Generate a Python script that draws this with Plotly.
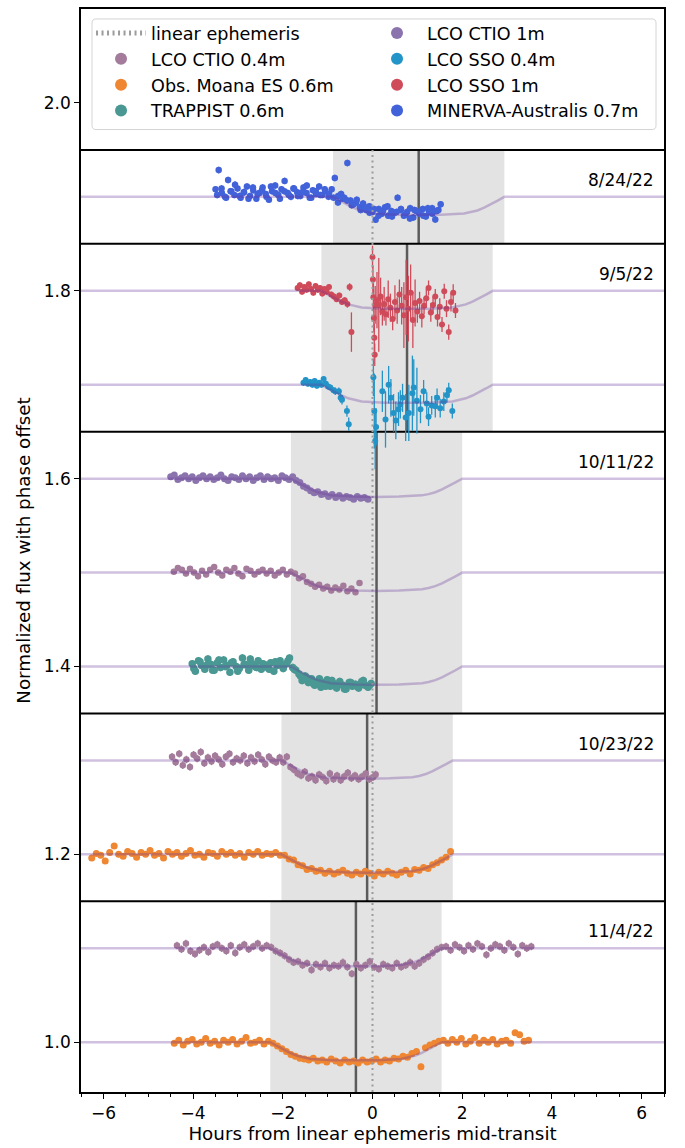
import plotly.graph_objects as go

FONT = "DejaVu Sans"
Y_MIN, Y_MAX = 0.947, 2.1
X_MIN, X_MAX = -6.5, 6.5

# ---------------- panels ----------------
panel_dates = ["8/24/22", "9/5/22", "10/11/22", "10/23/22", "11/4/22"]
panel_top = [1.95, 1.85, 1.65, 1.35, 1.15]
panel_bottom = [1.85, 1.65, 1.35, 1.15, Y_MIN]
panel_tc = [1.03, 0.77, 0.09, -0.12, -0.37]      # fitted mid-transit (hours)
half_t14 = 1.91                                   # half transit duration (hours)

# transit model profile (hours from mid-transit, flux drop)
model_dt = [-1.91, -1.76, -1.61, -1.46, -1.31, -1.16, -1.01, -0.5, 0.0,
            0.5, 1.01, 1.16, 1.31, 1.46, 1.61, 1.76, 1.91]
model_drop = [0.0, -0.0040, -0.0080, -0.0115, -0.0145, -0.0165, -0.0178, -0.0191, -0.0195,
              -0.0191, -0.0178, -0.0165, -0.0145, -0.0115, -0.0080, -0.0040, 0.0]

# ---------------- data ----------------
# 8/24/22 MINERVA-Australis 0.7m
minerva_t = [-3.50, -3.43, -3.36, -3.29, -3.22, -3.15, -3.08, -3.01, -2.94, -2.87, -2.80, -2.73,
             -2.66, -2.59, -2.52, -2.45, -2.38, -2.31, -2.24, -2.17, -2.10, -2.03, -1.96, -1.89,
             -1.82, -1.75, -1.68, -1.61, -1.54, -1.47, -1.40, -1.33, -1.26, -1.19, -1.12, -1.05,
             -0.98, -0.91, -0.84, -0.77, -0.70, -0.63, -0.56, -0.49, -0.42, -0.35, -0.28, -0.21,
             -0.14, -0.07, 0.00, 0.07, 0.14, 0.21, 0.28, 0.35, 0.42, 0.49, 0.56, 0.63, 0.70, 0.77,
             0.84, 0.91, 0.98, 1.05, 1.12, 1.19, 1.26, 1.33, 1.40, 1.47, 1.52,
             -3.465, -3.365, -3.265, -3.165, -3.065, -2.965, -2.865, -2.765, -2.665, -2.565,
             -2.465, -2.365, -2.265, -2.165, -2.065, -1.965, -1.865, -1.765, -1.665, -1.565,
             -1.465, -1.365, -1.265, -1.165, -1.065, -0.965, -0.865,
             -0.765, -0.665, -0.565, -0.465, -0.365, -0.265, -0.165, -0.065, 0.035, 0.135, 0.235,
             0.335, 0.435, 0.535, 0.635, 0.735, 0.835, 0.935, 1.035, 1.135, 1.235, 1.335, 1.435]
minerva_f = [1.008, 1.0285, 1.004, 1.000, 1.018, 1.006, 1.002, 1.009, 0.999, 1.005, 1.011, 1.001,
             1.007, 0.998, 1.004, 1.010, 1.003, 0.997, 1.006, 1.012, 1.002, 1.008, 1.017, 1.004,
             1.000, 1.009, 1.005, 1.001, 1.010, 1.004, 0.999, 1.007, 1.003, 1.011, 1.002, 1.006,
             1.000, 1.008, 1.020, 0.994, 1.003, 0.999, 1.036, 0.996, 0.992, 0.997, 0.989, 0.993,
             0.986, 0.990, 0.984, 0.9757, 0.987, 0.982, 0.989, 0.980, 0.985, 0.983, 0.999, 0.986,
             0.980, 0.984, 0.988, 0.978, 0.985, 0.982, 0.987, 0.979, 0.984, 0.988, 0.976, 0.986, 0.992,
             1.002, 1.009, 0.999, 1.006, 1.013, 1.001, 1.005, 0.998, 1.010, 1.003,
             1.007, 1.000, 1.011, 1.004, 0.998, 1.006, 1.002, 1.009, 1.001, 1.005,
             1.012, 0.999, 1.006, 1.002, 1.008, 1.003, 0.999,
             1.001, 0.998, 0.996, 0.991, 0.994, 0.986, 0.989, 0.983, 0.987, 0.980, 0.985,
             0.990, 0.979, 0.984, 0.987, 0.981, 0.977, 0.986, 0.983, 0.980, 0.988, 0.982, 0.985]
minerva_err = 0.0035

# 9/5/22 LCO SSO 1m
sso1_t = [-1.67, -1.62, -1.57, -1.52, -1.47, -1.42, -1.37, -1.32, -1.27, -1.22, -1.17, -1.12,
          -1.07, -1.02, -0.97, -0.92, -0.86, -0.80, -0.74, -0.68, -0.62, -0.56, -0.51, -0.47,
          0.00, 0.01, 0.02, 0.03, 0.04, 0.05, 0.06,
          0.10, 0.14, 0.18, 0.22, 0.26, 0.30, 0.35, 0.40, 0.45, 0.50, 0.55, 0.60, 0.65, 0.70,
          0.75, 0.80, 0.85, 0.90, 0.95, 1.00, 1.05, 1.10, 1.15, 1.20, 1.25, 1.30, 1.35, 1.40,
          1.45, 1.50, 1.55, 1.60, 1.65, 1.70, 1.75, 1.80, 1.85]
sso1_f = [1.003, 1.006, 0.999, 1.004, 1.001, 1.007, 1.002, 0.998, 1.005, 1.001, 1.003, 0.997,
          1.002, 0.999, 1.004, 0.996, 0.994, 0.991, 0.995, 0.988, 0.990, 0.986, 1.004, 0.956,
          1.036, 1.012, 0.993, 0.971, 0.950, 0.932, 0.985,
          0.990, 0.985, 0.994, 0.978, 0.986, 0.975, 0.991, 0.982, 0.970, 0.988, 0.979, 0.996,
          0.984, 0.974, 0.993, 0.981, 0.998, 0.969, 0.987, 0.978, 0.989, 0.973, 0.984, 0.992,
          1.003, 0.977, 0.985, 0.994, 0.972, 0.983, 0.964, 0.9995, 0.981, 0.956, 0.988, 0.998, 0.979]
sso1_err = [0.003, 0.003, 0.003, 0.003, 0.003, 0.003, 0.003, 0.003, 0.003, 0.003, 0.003, 0.003,
            0.003, 0.003, 0.003, 0.003, 0.003, 0.003, 0.003, 0.003, 0.003, 0.004, 0.004, 0.021,
            0.012, 0.015, 0.015, 0.015, 0.015, 0.012, 0.020,
            0.030, 0.050, 0.020, 0.015, 0.018, 0.012, 0.020, 0.015, 0.012, 0.018, 0.014, 0.016,
            0.020, 0.035, 0.040, 0.035, 0.030, 0.030, 0.025, 0.012, 0.010, 0.012, 0.009, 0.010,
            0.008, 0.010, 0.009, 0.008, 0.010, 0.009, 0.008, 0.008, 0.009, 0.008, 0.010, 0.009, 0.008]

# 9/5/22 LCO SSO 0.4m
sso04_t = [-1.54, -1.49, -1.44, -1.39, -1.34, -1.29, -1.24, -1.19, -1.14, -1.09, -1.04, -0.99,
           -0.94, -0.87, -0.83, -0.75, -0.71, -0.68, -0.57, -0.53,
           0.02, 0.04, 0.06, 0.08,
           0.22, 0.29, 0.36, 0.41, 0.47, 0.52, 0.58, 0.62, 0.67, 0.74, 0.81, 0.89, 0.92, 0.99,
           1.07, 1.14, 1.21, 1.25, 1.32, 1.40, 1.44, 1.51, 1.59, 1.66, 1.70, 1.78]
sso04_f = [1.002, 1.005, 1.001, 1.003, 1.000, 1.004, 0.999, 1.002, 1.000, 1.006, 1.001, 0.998,
           0.997, 0.994, 0.993, 0.993, 0.986, 0.984, 0.972, 0.958,
           1.008, 0.972, 0.940, 0.955,
           0.993, 0.963, 1.000, 0.986, 0.970, 0.962, 0.974, 0.979, 0.986, 0.965, 0.970, 0.991,
           0.997, 0.983, 0.974, 0.993, 0.980, 0.966, 0.978, 0.977, 0.986, 0.975, 0.982, 0.989,
           0.994, 0.972]
sso04_err = [0.003, 0.003, 0.003, 0.003, 0.003, 0.003, 0.003, 0.003, 0.003, 0.003, 0.003, 0.003,
             0.003, 0.003, 0.004, 0.004, 0.005, 0.005, 0.006, 0.007,
             0.020, 0.040, 0.030, 0.020,
             0.022, 0.030, 0.020, 0.020, 0.020, 0.020, 0.018, 0.015, 0.015, 0.025, 0.030, 0.040,
             0.030, 0.035, 0.015, 0.012, 0.012, 0.010, 0.010, 0.012, 0.010, 0.010, 0.010, 0.008,
             0.008, 0.008]

# 10/11/22 LCO CTIO 1m
ctio1_t = [-4.50, -4.42, -4.34, -4.26, -4.18, -4.10, -4.02, -3.94, -3.86, -3.78, -3.70, -3.62,
           -3.54, -3.46, -3.38, -3.30, -3.22, -3.14, -3.06, -2.98, -2.90, -2.82, -2.74, -2.66,
           -2.58, -2.50, -2.42, -2.34, -2.26, -2.18, -2.10, -2.02, -1.94, -1.86, -1.78,
           -1.70, -1.62, -1.54, -1.46, -1.38, -1.30, -1.22, -1.14, -1.06, -0.98, -0.90, -0.82,
           -0.74, -0.66, -0.58, -0.50, -0.42, -0.34, -0.26, -0.18, -0.10]
ctio1_f = [1.002, 1.004, 0.999, 1.001, 1.003, 1.000, 1.002, 0.998, 1.001, 1.003, 1.000, 1.002,
           0.999, 1.001, 1.004, 1.000, 0.998, 1.002, 1.001, 0.999, 1.003, 1.000, 1.002, 0.998,
           1.001, 1.003, 0.999, 1.002, 1.000, 1.001, 0.998, 1.003, 1.001, 0.999, 1.002,
           0.998, 0.996, 0.992, 0.990, 0.987, 0.985, 0.986, 0.983, 0.984, 0.981, 0.983, 0.980,
           0.982, 0.979, 0.981, 0.980, 0.978, 0.981, 0.979, 0.980, 0.978]
ctio1_err = 0.002

# 10/11/22 LCO CTIO 0.4m
ctio04a_t = [-4.43, -4.34, -4.25, -4.16, -4.07, -3.98, -3.89, -3.80, -3.71, -3.62, -3.53, -3.44,
             -3.35, -3.26, -3.17, -3.08, -2.99, -2.90, -2.81, -2.72, -2.63, -2.54, -2.45, -2.36,
             -2.27, -2.18, -2.09, -2.00, -1.91, -1.82,
             -1.73, -1.64, -1.55, -1.46, -1.37, -1.28, -1.19, -1.10, -1.01, -0.92, -0.83, -0.74,
             -0.65, -0.56, -0.47, -0.38, -0.29]
ctio04a_f = [1.001, 1.005, 1.003, 0.999, 1.004, 1.000, 0.996, 1.002, 0.998, 1.003, 1.006, 1.000,
             0.997, 1.003, 1.001, 1.005, 0.999, 0.996, 1.004, 1.002, 0.998, 1.001, 1.003, 0.999,
             1.002, 0.997, 1.000, 1.003, 0.998, 1.001,
             0.999, 0.994, 0.996, 0.990, 0.988, 0.985, 0.987, 0.983, 0.985, 0.981, 0.984, 0.982,
             0.986, 0.980, 0.983, 0.979, 0.989]
ctio04a_err = 0.003

# 10/11/22 TRAPPIST 0.6m
trap_t = [-4.02, -3.95, -3.88, -3.81, -3.74, -3.67, -3.60, -3.53, -3.46, -3.39, -3.32, -3.25,
          -3.18, -3.11, -3.04, -2.97, -2.90, -2.83, -2.76, -2.69, -2.62, -2.55, -2.48, -2.41,
          -2.34, -2.27, -2.20, -2.13, -2.06, -1.99, -1.92, -1.85,
          -1.78, -1.71, -1.64, -1.57, -1.50, -1.43, -1.36, -1.29, -1.22, -1.15, -1.08, -1.01,
          -0.94, -0.87, -0.80, -0.73, -0.66, -0.59, -0.52, -0.45, -0.38, -0.31, -0.24, -0.17,
          -0.10, -0.03,
          -3.985, -3.845, -3.705, -3.565, -3.425, -3.285, -3.145, -3.005, -2.865, -2.725,
          -2.585, -2.445, -2.305, -2.165, -2.025, -1.885,
          -1.745, -1.605, -1.465, -1.325, -1.185, -1.045, -0.905, -0.765, -0.625, -0.485,
          -0.345, -0.205, -0.065]
trap_f = [1.003, 0.995, 1.006, 1.001, 0.997, 1.008, 1.002, 0.996, 1.004, 0.999, 1.007, 1.001,
          0.994, 1.005, 1.000, 0.998, 1.009, 1.002, 0.996, 1.003, 1.000, 1.006, 0.997, 1.002,
          0.999, 1.004, 0.995, 1.001, 1.006, 0.998, 1.003, 1.009,
          0.999, 0.996, 0.992, 0.985, 0.990, 0.983, 0.987, 0.980, 0.984, 0.978, 0.983, 0.986,
          0.979, 0.982, 0.977, 0.984, 0.980, 0.976, 0.983, 0.979, 0.981, 0.977, 0.984, 0.980,
          0.978, 0.982,
          0.998, 1.005, 1.001, 0.996, 1.007, 1.000, 1.004, 0.995, 1.002, 1.008,
          0.999, 1.003, 0.997, 1.005, 1.001, 1.006,
          0.997, 0.990, 0.988, 0.982, 0.987, 0.979, 0.985, 0.981, 0.976, 0.983,
          0.979, 0.985, 0.980]
trap_err = 0.004

# 10/23/22 LCO CTIO 0.4m
ctio04b_t = [-4.47, -4.39, -4.31, -4.23, -4.15, -4.07, -3.99, -3.91, -3.83, -3.75, -3.67, -3.59,
             -3.51, -3.43, -3.35, -3.27, -3.19, -3.11, -3.03, -2.95, -2.87, -2.79, -2.71, -2.63,
             -2.55, -2.47, -2.39, -2.31, -2.23, -2.15, -2.07,
             -1.99, -1.91, -1.83, -1.75, -1.67, -1.59, -1.51, -1.43, -1.35, -1.27, -1.19, -1.11,
             -1.03, -0.95, -0.87, -0.79, -0.71, -0.63, -0.55, -0.47, -0.39, -0.31, -0.23, -0.15,
             -0.07, 0.01, 0.07]
ctio04b_f = [1.004, 0.998, 1.007, 0.995, 1.001, 0.993, 1.006, 1.002, 1.009, 0.997, 1.003, 0.999,
             1.005, 1.001, 0.996, 1.004, 1.007, 0.998, 1.002, 1.000, 1.005, 0.997, 1.003, 0.999,
             1.006, 1.001, 0.996, 1.004, 1.000, 0.998, 1.003,
             0.998, 1.004, 0.993, 0.990, 0.986, 0.984, 0.988, 0.981, 0.983, 0.979, 0.985, 0.982,
             0.978, 0.986, 0.980, 0.984, 0.979, 0.983, 0.987, 0.981, 0.984, 0.980, 0.983, 0.986,
             0.980, 0.982, 0.985]
ctio04b_err = 0.004

# 10/23/22 Obs. Moana ES 0.6m
moanaa_t = [-6.26, -6.16, -6.06, -5.96, -5.86, -5.76, -5.66, -5.56, -5.46, -5.36, -5.26, -5.16,
            -5.06, -4.96, -4.86, -4.76, -4.66, -4.56, -4.46, -4.36, -4.26, -4.16, -4.06, -3.96,
            -3.86, -3.76, -3.66, -3.56, -3.46, -3.36, -3.26, -3.16, -3.06, -2.96, -2.86, -2.76,
            -2.66, -2.56, -2.46, -2.36, -2.26, -2.16, -2.06,
            -1.96, -1.86, -1.76, -1.66, -1.56, -1.46, -1.36, -1.26, -1.16, -1.06, -0.96, -0.86,
            -0.76, -0.66, -0.56, -0.46, -0.36, -0.26, -0.16, -0.06, 0.04, 0.14, 0.24, 0.34,
            0.44, 0.54, 0.64, 0.74, 0.84, 0.94, 1.04, 1.14, 1.24, 1.34, 1.44, 1.54, 1.64, 1.74]
moanaa_f = [0.996, 1.001, 0.999, 0.993, 1.002, 1.009, 1.000, 0.998, 1.003, 1.001, 0.997, 1.002,
            1.000, 1.004, 0.999, 1.001, 0.996, 1.003, 1.000, 1.002, 0.998, 1.001, 1.004, 0.999,
            1.000, 0.997, 1.002, 1.001, 0.998, 1.003, 1.000, 1.002, 0.999, 1.001, 0.997, 1.002,
            1.000, 1.003, 0.999, 1.001, 1.000, 1.002, 0.999,
            0.999, 0.995, 0.994, 0.989, 0.988, 0.984, 0.985, 0.982, 0.983, 0.980, 0.982, 0.979,
            0.981, 0.983, 0.980, 0.978, 0.981, 0.979, 0.982, 0.980, 0.977, 0.981, 0.979, 0.982,
            0.980, 0.978, 0.981, 0.983, 0.979, 0.984, 0.983, 0.986, 0.985, 0.989, 0.991, 0.994,
            0.997, 1.003]
moanaa_err = 0.003

# 11/4/22 LCO CTIO 0.4m
ctio04c_t = [-4.36, -4.26, -4.16, -4.06, -3.96, -3.86, -3.76, -3.66, -3.56, -3.46, -3.36, -3.26,
             -3.16, -3.06, -2.96, -2.86, -2.76, -2.66, -2.56, -2.46, -2.36,
             -2.26, -2.16, -2.06, -1.96, -1.86, -1.76, -1.66, -1.56, -1.46, -1.36, -1.26, -1.16,
             -1.06, -0.96, -0.86, -0.76, -0.66, -0.56, -0.46, -0.36, -0.26, -0.16, -0.06, 0.04,
             0.14, 0.24, 0.34, 0.44, 0.54, 0.64, 0.74, 0.84, 0.94, 1.04, 1.14, 1.24, 1.34, 1.44,
             1.54,
             1.64, 1.74, 1.84, 1.94, 2.04, 2.14, 2.24, 2.34, 2.44, 2.54, 2.64, 2.74, 2.84, 2.94,
             3.04, 3.14, 3.24, 3.34, 3.44, 3.54]
ctio04c_f = [1.003, 0.999, 1.005, 0.997, 0.994, 0.998, 1.001, 0.996, 1.002, 1.004, 1.000, 0.997,
             1.003, 0.995, 1.001, 1.004, 0.999, 1.002, 1.005, 1.000, 1.003,
             1.001, 0.997, 0.995, 0.992, 0.988, 0.985, 0.986, 0.982, 0.984, 0.977, 0.983, 0.980,
             0.984, 0.979, 0.982, 0.981, 0.985, 0.980, 0.973, 0.983, 0.979, 0.982, 0.986, 0.980,
             0.978, 0.983, 0.981, 0.979, 0.984, 0.980, 0.982, 0.985, 0.981, 0.984, 0.988, 0.991,
             0.995, 0.999, 1.001,
             1.002, 0.998, 1.004, 1.001, 0.997, 1.003, 0.999, 1.005, 1.002, 0.993, 1.000, 1.004,
             1.002, 0.998, 1.005, 1.001, 0.994, 1.003, 1.000, 1.002]
ctio04c_err = 0.004

# 11/4/22 Obs. Moana ES 0.6m
moanab_t = [-4.42, -4.32, -4.22, -4.12, -4.02, -3.92, -3.82, -3.72, -3.62, -3.52, -3.42, -3.32,
            -3.22, -3.12, -3.02, -2.92, -2.82, -2.72, -2.62, -2.52, -2.42, -2.32,
            -2.22, -2.12, -2.02, -1.92, -1.82, -1.72, -1.62, -1.52, -1.42, -1.32, -1.22, -1.12,
            -1.02, -0.92, -0.82, -0.72, -0.62, -0.52, -0.42, -0.32, -0.22, -0.12, -0.02, 0.08,
            0.18, 0.28, 0.38, 0.48, 0.58, 0.68, 0.78, 0.88, 0.98, 1.08, 1.18, 1.28, 1.38, 1.48,
            1.58, 1.68, 1.78, 1.88, 1.98, 2.08, 2.18, 2.28, 2.38, 2.48, 2.58, 2.68, 2.78, 2.88,
            2.98, 3.08, 3.18, 3.28, 3.38, 3.48]
moanab_f = [0.999, 1.002, 0.997, 1.001, 1.003, 0.998, 1.000, 1.004, 0.999, 1.001, 0.997, 1.002,
            1.000, 1.003, 0.998, 1.001, 1.005, 0.999, 1.000, 1.002, 0.998, 1.001,
            0.999, 0.996, 0.993, 0.990, 0.987, 0.985, 0.983, 0.982, 0.981, 0.983, 0.980, 0.981,
            0.979, 0.982, 0.980, 0.978, 0.981, 0.979, 0.980, 0.978, 0.981, 0.979, 0.980, 0.982,
            0.979, 0.981, 0.980, 0.983, 0.982, 0.985, 0.984, 0.988, 0.990, 0.974, 0.994, 0.997,
            0.999, 1.001,
            1.002, 0.999, 1.003, 1.000, 1.004, 0.998, 1.001, 1.005, 0.999, 1.002, 1.000, 1.003,
            0.998, 1.001, 1.002, 0.999, 1.010, 1.008, 1.001, 1.002]
moanab_err = 0.003

# ---------------- styling ----------------
colors = {
    "LCO CTIO 0.4m": "#a47b9b",
    "Obs. Moana ES 0.6m": "#ef8632",
    "TRAPPIST 0.6m": "#4a9894",
    "LCO CTIO 1m": "#8b74ad",
    "LCO SSO 0.4m": "#2394c8",
    "LCO SSO 1m": "#cf4b5a",
    "MINERVA-Australis 0.7m": "#4262da",
}
legend_slot = {  # (legend id, rank)
    "LCO CTIO 0.4m": ("legend", 2),
    "Obs. Moana ES 0.6m": ("legend", 3),
    "TRAPPIST 0.6m": ("legend", 4),
    "LCO CTIO 1m": ("legend2", 5),
    "LCO SSO 0.4m": ("legend2", 6),
    "LCO SSO 1m": ("legend2", 7),
    "MINERVA-Australis 0.7m": ("legend2", 8),
}

# (name, times, flux, err, offset, panel, marker size)
series = [
    ("MINERVA-Australis 0.7m", minerva_t, minerva_f, minerva_err, 0.9, 0, 6.5),
    ("LCO SSO 1m", sso1_t, sso1_f, sso1_err, 0.8, 1, 6),
    ("LCO SSO 0.4m", sso04_t, sso04_f, sso04_err, 0.7, 1, 6),
    ("LCO CTIO 1m", ctio1_t, ctio1_f, ctio1_err, 0.6, 2, 7),
    ("LCO CTIO 0.4m", ctio04a_t, ctio04a_f, ctio04a_err, 0.5, 2, 6.5),
    ("TRAPPIST 0.6m", trap_t, trap_f, trap_err, 0.4, 2, 7.5),
    ("LCO CTIO 0.4m", ctio04b_t, ctio04b_f, ctio04b_err, 0.3, 3, 6.5),
    ("Obs. Moana ES 0.6m", moanaa_t, moanaa_f, moanaa_err, 0.2, 3, 7),
    ("LCO CTIO 0.4m", ctio04c_t, ctio04c_f, ctio04c_err, 0.1, 4, 6.5),
    ("Obs. Moana ES 0.6m", moanab_t, moanab_f, moanab_err, 0.0, 4, 7),
]

fig = go.Figure()
shapes = []

# panels: shaded transit window, fitted mid-transit, separators
for i in range(len(panel_dates)):
    tc = panel_tc[i]
    shapes.append(dict(type="rect", xref="x", yref="y", x0=tc - half_t14, x1=tc + half_t14,
                       y0=panel_bottom[i], y1=panel_top[i], fillcolor="#e3e3e3",
                       line=dict(width=0), layer="below"))
    shapes.append(dict(type="line", xref="x", yref="y", x0=tc, x1=tc,
                       y0=panel_bottom[i], y1=panel_top[i],
                       line=dict(color="#5b5b5b", width=2.5), layer="below"))
for yy in panel_top:
    shapes.append(dict(type="line", xref="x", yref="y", x0=X_MIN, x1=X_MAX, y0=yy, y1=yy,
                       line=dict(color="black", width=2), layer="below"))

# legend frame
lx0, lx1, ly0, ly1 = 0.0189, 0.9863, 0.8887, 0.9908
rx, ry = 0.007, 0.0037
legend_path = (f"M{lx0+rx},{ly0} L{lx1-rx},{ly0} Q{lx1},{ly0} {lx1},{ly0+ry} "
               f"L{lx1},{ly1-ry} Q{lx1},{ly1} {lx1-rx},{ly1} L{lx0+rx},{ly1} "
               f"Q{lx0},{ly1} {lx0},{ly1-ry} L{lx0},{ly0+ry} Q{lx0},{ly0} {lx0+rx},{ly0} Z")
shapes.append(dict(type="path", xref="paper", yref="paper", path=legend_path,
                   fillcolor="white", line=dict(color="#d4d4d4", width=1), layer="below"))

# data
shown = set()
for name, t, f, err, off, panel, msize in series:
    col = colors[name]
    y = [v + off for v in f]
    if isinstance(err, list):
        ey = dict(type="data", array=err, color=col, thickness=1.3, width=0)
    else:
        ey = dict(type="constant", value=err, color=col, thickness=1.3, width=0)
    leg, rank = legend_slot[name]
    fig.add_trace(go.Scatter(
        x=t, y=y, mode="markers", name=name,
        marker=dict(color=col, size=msize, line=dict(width=0)),
        error_y=ey, showlegend=name not in shown, legend=leg, legendrank=rank,
        legendgroup=name,
    ))
    shown.add(name)

# linear ephemeris
fig.add_trace(go.Scatter(
    x=[0, 0], y=[Y_MIN, panel_top[0]], mode="lines", name="linear ephemeris",
    line=dict(color="#9c9c9c", width=2, dash="2px,3.5px"), legend="legend", legendrank=1,
    legendgroup="eph",
))

# transit models (semi-transparent purple over everything)
for name, t, f, err, off, panel, msize in series:
    tc = panel_tc[panel]
    mx = [X_MIN] + [tc + d for d in model_dt] + [X_MAX]
    my = [1.0 + off] + [1.0 + off + d for d in model_drop] + [1.0 + off]
    fig.add_trace(go.Scatter(x=mx, y=my, mode="lines", showlegend=False, hoverinfo="skip",
                             line=dict(color="rgba(102,51,153,0.3)", width=2.5)))

# date labels
annotations = []
for i, d in enumerate(panel_dates):
    annotations.append(dict(x=6.32, y=panel_top[i] - 0.032, xref="x", yref="y", text=d,
                            showarrow=False, xanchor="right", yanchor="middle",
                            font=dict(family=FONT, size=17, color="black")))

LFS = 18.3
LEGFS = 17.6
fig.update_layout(
    width=685, height=1148,
    margin=dict(l=81, r=21, t=7, b=54),
    paper_bgcolor="white", plot_bgcolor="white",
    font=dict(family=FONT, size=17, color="black"),
    shapes=shapes, annotations=annotations,
    legend=dict(x=0.0172, y=0.9945, xanchor="left", yanchor="top", bgcolor="rgba(0,0,0,0)",
                borderwidth=0, font=dict(family=FONT, size=LEGFS), traceorder="normal",
                itemsizing="constant", tracegroupgap=0, itemwidth=50),
    legend2=dict(x=0.4906, y=0.9945, xanchor="left", yanchor="top", bgcolor="rgba(0,0,0,0)",
                 borderwidth=0, font=dict(family=FONT, size=LEGFS), traceorder="normal",
                 itemsizing="constant", tracegroupgap=0, itemwidth=50),
    xaxis=dict(range=[X_MIN, X_MAX], showgrid=False, zeroline=False, showline=True,
               linecolor="black", linewidth=1.5, mirror=True, ticks="outside", ticklen=5,
               tickwidth=1.2, tickcolor="black", tick0=0, dtick=2,
               minor=dict(dtick=0.5, ticks="outside", ticklen=3, tickcolor="black", tickwidth=1),
               title=dict(text="Hours from linear ephemeris mid-transit", font=dict(size=LFS),
                          standoff=5),
               tickfont=dict(size=17)),
    yaxis=dict(range=[Y_MIN, Y_MAX], showgrid=False, zeroline=False, showline=True,
               linecolor="black", linewidth=1.5, mirror=True, ticks="outside", ticklen=5,
               tickwidth=1.2, tickcolor="black",
               tickvals=[1.0, 1.2, 1.4, 1.6, 1.8, 2.0],
               ticktext=["1.0", "1.2", "1.4", "1.6", "1.8", "2.0"],
               title=dict(text="Normalized flux with phase offset", font=dict(size=LFS),
                          standoff=8),
               tickfont=dict(size=17)),
)

fig.write_html("out.html")
